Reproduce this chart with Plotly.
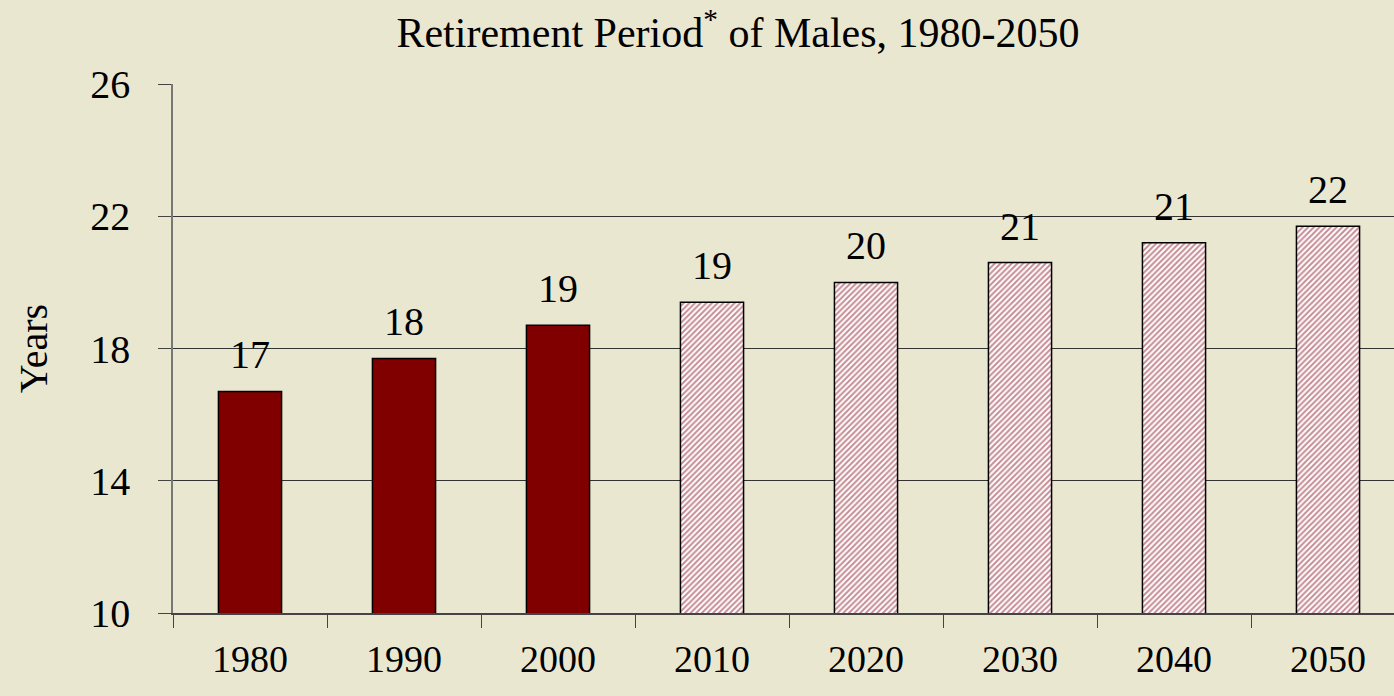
import plotly.graph_objects as go

years = ["1980", "1990", "2000", "2010", "2020", "2030", "2040", "2050"]
values = [16.7, 17.7, 18.7, 19.4, 20.0, 20.6, 21.2, 21.7]
labels = ["17", "18", "19", "19", "20", "21", "21", "22"]
projected = [False, False, False, True, True, True, True, True]
y_ticks = [10, 14, 18, 22, 26]

BG = "#EAE7D1"
FONT = "Liberation Serif, Times New Roman, serif"

fig = go.Figure()

hist_x = [y for y, p in zip(years, projected) if not p]
hist_v = [v for v, p in zip(values, projected) if not p]
proj_x = [y for y, p in zip(years, projected) if p]
proj_v = [v for v, p in zip(values, projected) if p]

fig.add_trace(go.Bar(
    x=hist_x, y=hist_v, width=0.41,
    marker=dict(color="#800000", line=dict(color="black", width=1.5)),
    showlegend=False, hoverinfo="x+y",
))
fig.add_trace(go.Bar(
    x=proj_x, y=proj_v, width=0.41,
    marker=dict(color="white", line=dict(color="black", width=1.5),
                pattern=dict(shape="/", fgcolor="#8E1A2A", bgcolor="white",
                             size=4, solidity=0.5)),
    showlegend=False, hoverinfo="x+y",
))

for i, (v, t) in enumerate(zip(values, labels)):
    fig.add_annotation(x=i, y=v, xref="x", yref="y", text=t, showarrow=False,
                       yanchor="bottom", yshift=12,
                       font=dict(family=FONT, size=40, color="black"))

fig.update_layout(
    width=1394, height=696,
    paper_bgcolor=BG, plot_bgcolor=BG,
    margin=dict(l=173, r=0, t=84, b=83),
    barmode="overlay",
    title=dict(text="Retirement Period<sup>*</sup> of Males, 1980-2050",
               x=738 / 1394, xanchor="center", y=1 - 32 / 696, yanchor="middle",
               font=dict(family=FONT, size=42, color="black")),
    font=dict(family=FONT, color="black"),
)

fig.update_xaxes(
    type="category", categoryorder="array", categoryarray=years,
    range=[-0.5, 7.5 - 11 / 154],
    tickson="boundaries", ticks="outside", ticklen=13, tickcolor="#444",
    showline=True, linecolor="#444", linewidth=1.5,
    showgrid=False,
    tickfont=dict(family=FONT, size=38, color="black"),
    ticklabelstandoff=12,
)
fig.update_yaxes(
    range=[10, 26], tickvals=y_ticks, ticktext=[str(v) for v in y_ticks],
    ticks="outside", ticklen=13, tickcolor="#444",
    showline=True, linecolor="#777", linewidth=1.5,
    showgrid=True, gridcolor="#333", gridwidth=1.2,
    zeroline=False,
    tickfont=dict(family=FONT, size=40, color="black"),
    ticklabelstandoff=20,
    title=dict(text="Years", font=dict(family=FONT, size=40, color="black"), standoff=30),
)

fig.write_html("out.html", config={"displayModeBar": False},
               post_script="document.body.style.margin='0';")
